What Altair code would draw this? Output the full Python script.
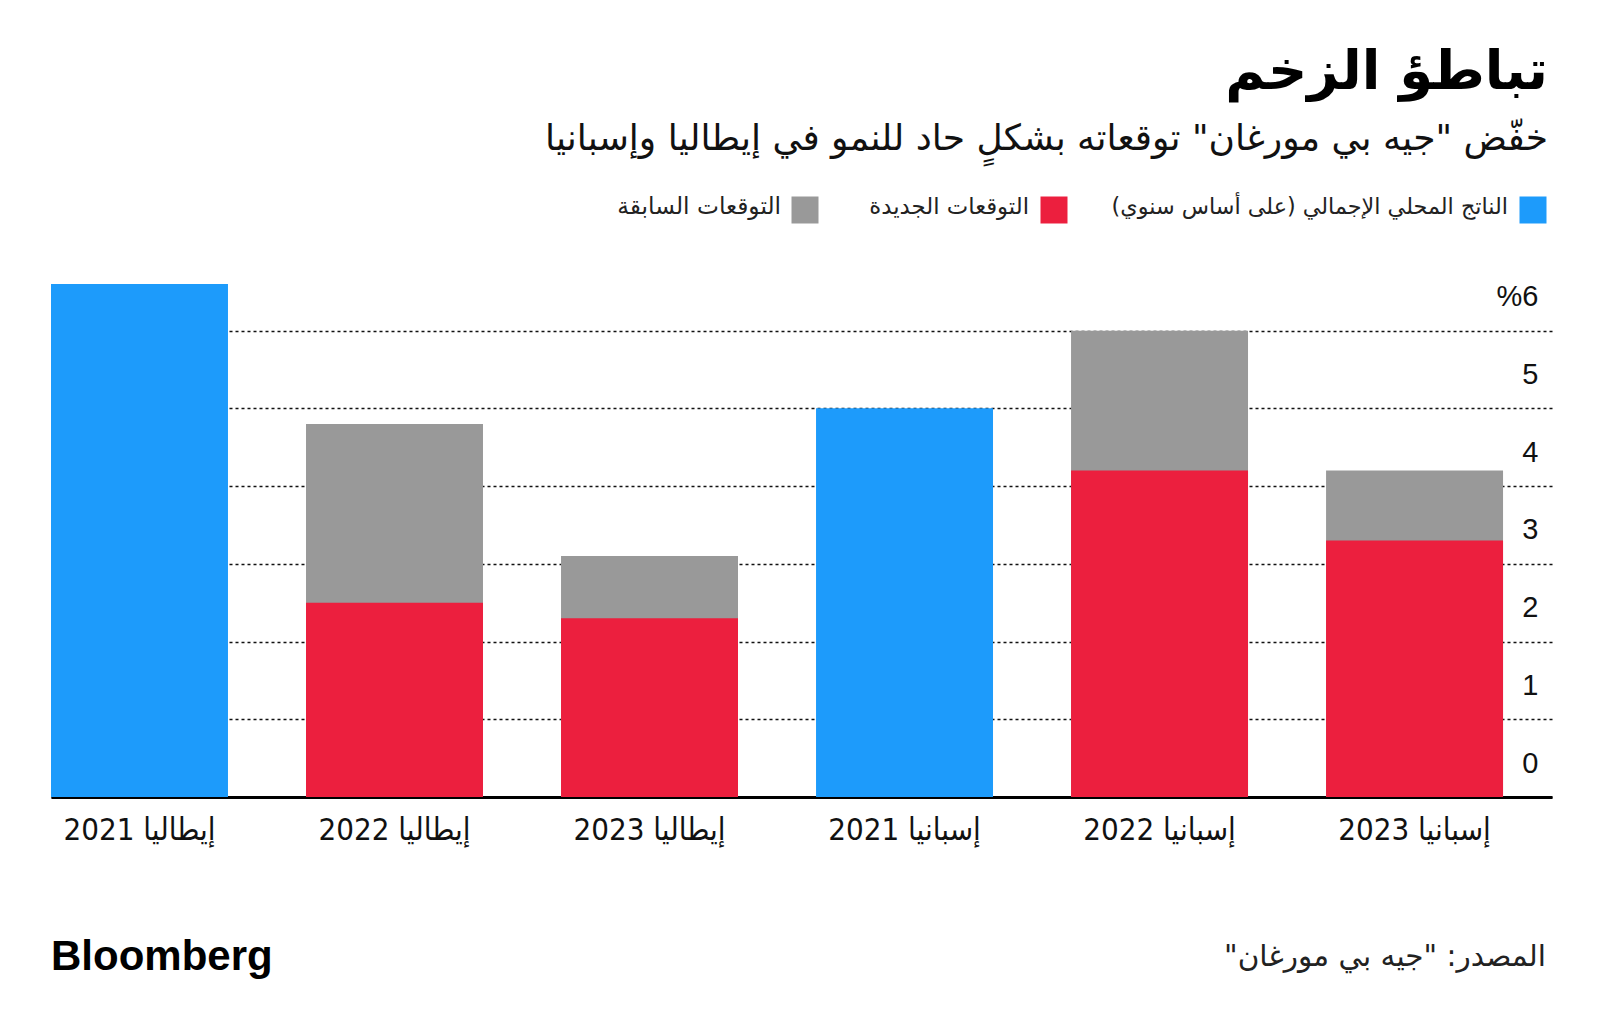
import altair as alt
import pandas as pd

# ---------------- data ----------------
categories = ["إيطاليا 2021", "إيطاليا 2022", "إيطاليا 2023",
              "إسبانيا 2021", "إسبانيا 2022", "إسبانيا 2023"]
gdp_actual = [6.6, None, None, 5.0, None, None]
prev_forecast = [None, 4.8, 3.1, None, 6.0, 4.2]
new_forecast = [None, 2.5, 2.3, None, 4.2, 3.3]
series_keys = ["actual", "new", "prev"]
series_names = ["الناتج المحلي الإجمالي (على أساس سنوي)", "التوقعات الجديدة", "التوقعات السابقة"]
series_colors = ["#1d9bfb", "#ec1f3e", "#999999"]
y_ticks = [0, 1, 2, 3, 4, 5, 6]

title_text = "تباطؤ الزخم"
subtitle_text = "خفّض \"جيه بي مورغان\" توقعاته بشكلٍ حاد للنمو في إيطاليا وإسبانيا"
source_text = "المصدر: \"جيه بي مورغان\""
brand_text = "Bloomberg"

RLM = "\u200f"


def rtl(s):
    return RLM + s + RLM


cats = [rtl(c) for c in categories]
rows = []
for c, a, p, n in zip(cats, gdp_actual, prev_forecast, new_forecast):
    if a is not None:
        rows.append({"cat": c, "series": "actual", "value": a})
    if p is not None:
        rows.append({"cat": c, "series": "prev", "value": p})
    if n is not None:
        rows.append({"cat": c, "series": "new", "value": n})
df = pd.DataFrame(rows)

W, H = 1501, 513
AR_FONT = "DejaVu Sans"
COND_FONT = "Liberation Sans Narrow, DejaVu Sans Condensed, Roboto Condensed, DejaVu Sans, sans-serif"

xaxis = alt.Axis(
    domain=True, domainColor="#000000", domainWidth=3, ticks=False,
    labelFont=COND_FONT, labelFontSize=31, labelColor="#111111",
    labelPadding=18, labelAngle=0,
)
xenc = alt.X(
    "cat:N", sort=cats, title=None,
    scale=alt.Scale(paddingInner=0.306, paddingOuter=0.096, align=0),
    axis=xaxis,
)
yscale = alt.Scale(domain=[0, 6.6], nice=False, zero=True)
color = alt.Color("series:N", scale=alt.Scale(domain=series_keys, range=series_colors), legend=None)

yaxis = alt.Axis(
    orient="right", values=y_ticks, title=None, domain=False, ticks=False,
    grid=True, gridDash=[3, 3], gridColor="#111111", gridWidth=1.5,
    labelExpr="datum.value == 6 ? '%6' : datum.label",
    labelAlign="right", labelBaseline="alphabetic", labelOffset=-25,
    labelPadding=-14, labelFont="Liberation Sans, Arial, sans-serif", labelFontSize=29,
    labelColor="#111111",
)
yenc = alt.Y("value:Q", scale=yscale, axis=yaxis, title=None)

base = alt.Chart(df)
bars_prev = base.transform_filter("datum.series == 'prev'").mark_bar().encode(
    x=xenc, y=yenc, color=color)
bars_new = base.transform_filter("datum.series == 'new'").mark_bar().encode(
    x=xenc, y=yenc, color=color)
bars_act = base.transform_filter("datum.series == 'actual'").mark_bar().encode(
    x=xenc, y=yenc, color=color)

# manual right-to-left legend (swatch on the right of its label)
legend_layers = []
leg_items = [(1482, 1457, 22.3), (1003, 978, 22.8), (754, 730, 23.3)]
for name, col, (sx, tx, fs) in zip(series_names, series_colors, leg_items):
    d = pd.DataFrame({"t": [rtl(name)]})
    legend_layers.append(
        alt.Chart(d).mark_square(size=729, filled=True, color=col, opacity=1).encode(
            x=alt.value(sx), y=alt.value(-74)))
    legend_layers.append(
        alt.Chart(d).mark_text(align="right", baseline="middle", font=AR_FONT,
                               fontSize=fs, color="#222222").encode(
            x=alt.value(tx), y=alt.value(-77), text="t:N"))

brand = alt.Chart(pd.DataFrame({"t": [brand_text]})).mark_text(
    align="left", baseline="middle", font="Liberation Sans", fontWeight="bold",
    fontSize=42, color="#000000").encode(
    x=alt.value(0), y=alt.value(673), text="t:N")
source = alt.Chart(pd.DataFrame({"t": [rtl(source_text)]})).mark_text(
    align="right", baseline="middle", font=AR_FONT, fontSize=29.5, color="#222222").encode(
    x=alt.value(1495), y=alt.value(673), text="t:N")

chart = alt.layer(bars_prev, bars_new, bars_act, *legend_layers, brand, source).properties(
    width=W, height=H,
    background="#ffffff",
    autosize=alt.AutoSizeParams(type="none"),
    padding={"left": 43, "top": 276, "right": 40, "bottom": 220},
    title=alt.TitleParams(
        text=title_text, subtitle=rtl(subtitle_text),
        anchor="end", orient="top", frame="group", dx=-4, offset=37,
        font=AR_FONT, fontSize=54.5, fontWeight="bold", color="#000000",
        subtitleFont=AR_FONT, subtitleFontSize=36, subtitleColor="#111111",
        subtitlePadding=22,
    ),
).configure_view(stroke=None)

chart.save("out.html", embed_options={"renderer": "svg", "actions": False})
